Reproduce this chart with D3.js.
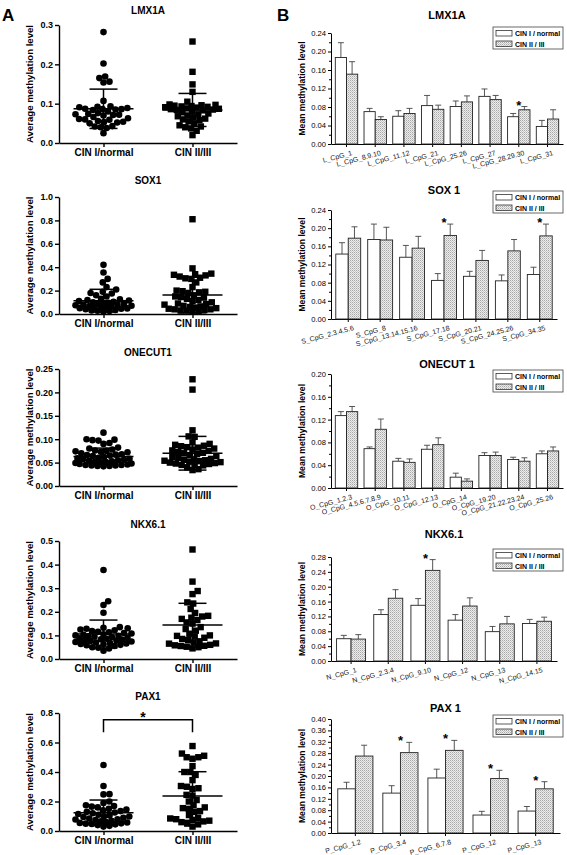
<!DOCTYPE html>
<html><head><meta charset="utf-8">
<script src="https://cdn.jsdelivr.net/npm/d3@7"></script>
<style>
body{margin:0;background:#fff;}
svg{display:block;font-family:"Liberation Sans",Arial,Helvetica,sans-serif;}
</style></head><body>
<svg id="fig" width="567" height="855"></svg>
<script>
// ---------- Panel A data (scatter, mean ± SD) ----------
const scatterGenes = ["LMX1A", "SOX1", "ONECUT1", "NKX6.1", "PAX1"];
const scatterGroups = ["CIN I/normal", "CIN II/III"];
const scatterMax = [0.3, 1.0, 0.25, 0.5, 0.8];
const scatterStep = [0.1, 0.2, 0.05, 0.1, 0.2];
const scatterFmt = [".1f", ".1f", ".2f", ".1f", ".1f"];

const lmx1aNormal = [0.282,0.202,0.169,0.165,0.156,0.154,0.107,0.093,0.092,0.091,0.089,0.087,0.086,0.086,0.085,0.084,0.080,0.076,0.074,0.073,0.072,0.071,0.070,0.066,0.063,0.061,0.060,0.059,0.056,0.054,0.053,0.052,0.050,0.043,0.042,0.040,0.038,0.025];
const lmx1aHigh = [0.258,0.181,0.149,0.130,0.105,0.098,0.097,0.096,0.095,0.094,0.093,0.092,0.091,0.090,0.088,0.087,0.086,0.085,0.084,0.083,0.080,0.078,0.075,0.073,0.070,0.068,0.065,0.062,0.060,0.058,0.055,0.050,0.045,0.042,0.040,0.037,0.031,0.020];
const sox1Normal = [0.42,0.355,0.30,0.27,0.23,0.21,0.19,0.18,0.175,0.16,0.15,0.13,0.125,0.12,0.115,0.11,0.105,0.10,0.095,0.09,0.088,0.085,0.08,0.078,0.075,0.07,0.068,0.065,0.06,0.058,0.055,0.05,0.048,0.045,0.04,0.035,0.03,0.028,0.025,0.02];
const sox1High = [0.81,0.39,0.345,0.34,0.335,0.33,0.32,0.31,0.305,0.30,0.27,0.23,0.20,0.195,0.19,0.185,0.18,0.16,0.15,0.145,0.14,0.13,0.12,0.11,0.10,0.09,0.085,0.08,0.07,0.065,0.06,0.055,0.05,0.045,0.04,0.04,0.035,0.03,0.03,0.025,0.02];
const onecut1Normal = [0.114,0.100,0.099,0.098,0.097,0.092,0.090,0.082,0.080,0.078,0.076,0.075,0.074,0.073,0.072,0.070,0.068,0.067,0.066,0.065,0.064,0.062,0.060,0.059,0.058,0.057,0.056,0.055,0.054,0.053,0.052,0.051,0.050,0.049,0.048,0.047,0.046,0.045,0.045,0.044,0.044,0.043,0.043,0.042];
const onecut1High = [0.228,0.206,0.119,0.106,0.105,0.093,0.090,0.088,0.086,0.085,0.083,0.082,0.080,0.078,0.076,0.075,0.073,0.071,0.070,0.068,0.066,0.064,0.062,0.060,0.058,0.057,0.056,0.055,0.054,0.053,0.052,0.051,0.050,0.049,0.048,0.047,0.046,0.045,0.044,0.040,0.036,0.034];
const nkx61Normal = [0.377,0.245,0.229,0.196,0.135,0.132,0.130,0.128,0.125,0.122,0.118,0.115,0.113,0.110,0.108,0.105,0.103,0.100,0.098,0.096,0.094,0.092,0.090,0.088,0.086,0.084,0.082,0.080,0.078,0.076,0.074,0.072,0.070,0.068,0.066,0.064,0.062,0.060,0.058,0.055,0.050,0.048,0.045,0.035];
const nkx61High = [0.464,0.328,0.288,0.275,0.24,0.235,0.212,0.195,0.183,0.18,0.175,0.17,0.165,0.155,0.15,0.135,0.127,0.12,0.107,0.1,0.098,0.095,0.09,0.085,0.08,0.075,0.07,0.066,0.065,0.06,0.058,0.056,0.055,0.052,0.05,0.045];
const pax1Normal = [0.447,0.305,0.25,0.248,0.20,0.19,0.175,0.17,0.165,0.16,0.15,0.145,0.14,0.135,0.13,0.125,0.12,0.115,0.11,0.105,0.10,0.098,0.095,0.09,0.085,0.08,0.078,0.075,0.07,0.065,0.06,0.058,0.055,0.052,0.05,0.048,0.045,0.04,0.035,0.03];
const pax1High = [0.576,0.525,0.51,0.50,0.50,0.49,0.44,0.40,0.40,0.38,0.345,0.305,0.30,0.29,0.285,0.245,0.24,0.21,0.20,0.175,0.16,0.155,0.15,0.135,0.13,0.108,0.09,0.085,0.08,0.075,0.07,0.065,0.06,0.05,0.045,0.03];

const meanNormal = [0.087, 0.114, 0.063, 0.106, 0.124];
const sdNormal   = [0.050, 0.097, 0.018, 0.059, 0.086];
const meanHigh   = [0.084, 0.162, 0.070, 0.144, 0.237];
const sdHigh     = [0.042, 0.152, 0.036, 0.092, 0.165];
const pax1Bracket = [0.67, 0.755]; // leg end, bracket top (data units)

// ---------- Panel B data (bars, mean + SE) ----------
const barGenes = ["LMX1A", "SOX 1", "ONECUT 1", "NKX6.1", "PAX 1"];
const barSeries = ["CIN I / normal", "CIN II / III"];
const barMax = [0.24, 0.24, 0.20, 0.28, 0.40];

const lmxSites = ["L_CpG_1","L_CpG_8.9.10","L_CpG_11.12","L_CpG_21","L_CpG_25.26","L_CpG_27","L_CpG_28.29.30","L_CpG_31"];
const lmxNormal = [0.187,0.070,0.060,0.083,0.081,0.103,0.059,0.038];
const lmxNormalErr = [0.032,0.007,0.012,0.022,0.012,0.016,0.007,0.013];
const lmxHigh = [0.151,0.053,0.066,0.075,0.091,0.096,0.074,0.054];
const lmxHighErr = [0.027,0.006,0.011,0.009,0.013,0.009,0.007,0.020];
const lmxStars = [0,0,0,0,0,0,1,0];

const soxSites = ["S_CpG_2.3.4.5.6","S_CpG_8","S_CpG_13.14.15.16","S_CpG_17.18","S_CpG_20.21","S_CpG_24.25.26","S_CpG_34.35"];
const soxNormal = [0.143,0.175,0.136,0.085,0.094,0.084,0.098];
const soxNormalErr = [0.025,0.034,0.026,0.015,0.011,0.013,0.016];
const soxHigh = [0.178,0.174,0.156,0.184,0.129,0.150,0.183];
const soxHighErr = [0.025,0.028,0.026,0.025,0.022,0.025,0.026];
const soxStars = [0,0,0,1,0,0,1];

const oneSites = ["O_CpG_1.2.3","O_CpG_4.5.6.7.8.9","O_CpG_10.11","O_CpG_12.13","O_CpG_14","O_CpG_19.20","O_CpG_21.22.23.24","O_CpG_25.26"];
const oneNormal = [0.127,0.069,0.047,0.068,0.019,0.057,0.050,0.060];
const oneNormalErr = [0.007,0.003,0.005,0.007,0.007,0.005,0.004,0.005];
const oneHigh = [0.134,0.103,0.045,0.076,0.012,0.057,0.047,0.065];
const oneHighErr = [0.009,0.018,0.006,0.012,0.004,0.006,0.006,0.007];
const oneStars = [0,0,0,0,0,0,0,0];

const nkxSites = ["N_CpG_1","N_CpG_2.3.4","N_CpG_9.10","N_CpG_12","N_CpG_13","N_CpG_14.15"];
const nkxNormal = [0.060,0.125,0.150,0.110,0.079,0.101];
const nkxNormalErr = [0.009,0.013,0.018,0.015,0.014,0.011];
const nkxHigh = [0.059,0.169,0.244,0.148,0.100,0.107];
const nkxHighErr = [0.012,0.023,0.029,0.022,0.020,0.011];
const nkxStars = [0,0,1,0,0,0];

const paxSites = ["P_CpG_1.2","P_CpG_3.4","P_CpG_6.7.8","P_CpG_12","P_CpG_13"];
const paxNormal = [0.155,0.140,0.193,0.063,0.077];
const paxNormalErr = [0.023,0.026,0.031,0.013,0.016];
const paxHigh = [0.270,0.282,0.290,0.191,0.155];
const paxHighErr = [0.038,0.036,0.035,0.029,0.025];
const paxStars = [0,1,1,1,1];

// ---------- layout ----------
const leftX0 = 59, leftX1 = 237;
const leftTop = [25, 197, 369, 541, 713];
const leftBottom = [143, 314, 486, 659, 831];
const leftTitleY = [14, 184, 356, 528, 700];

const barX0 = 331;
const barTop = [33, 210, 374, 557, 719];
const barBottom = [144, 319, 488, 661, 833];
const barRight = [563, 557, 563, 557, 560];
const barTitleY = [19, 194, 368, 538, 712];
const legendY = [27, 191, 370, 549, 715];

const svg = d3.select("#fig");
svg.append("rect").attr("width", 567).attr("height", 855).attr("fill", "#fff");

const defs = svg.append("defs");
const pat = defs.append("pattern").attr("id", "dots").attr("width", 2).attr("height", 2)
  .attr("patternUnits", "userSpaceOnUse");
pat.append("rect").attr("width", 2).attr("height", 2).attr("fill", "#ececec");
pat.append("rect").attr("width", 1).attr("height", 1).attr("fill", "#a8a8a8");
pat.append("rect").attr("x", 1).attr("y", 1).attr("width", 1).attr("height", 1).attr("fill", "#c8c8c8");

svg.append("text").attr("x", 2).attr("y", 21).attr("font-size", 17).attr("font-weight", "bold").text("A");
svg.append("text").attr("x", 277).attr("y", 21).attr("font-size", 17).attr("font-weight", "bold").text("B");

// beeswarm placement, limited to a half-width W (markers may then overlap, like Prism)
function swarm(vals, yScale, s, W) {
  const pts = vals.map(v => ({ v, y: yScale(v) })).sort((a, b) => b.y - a.y);
  const placed = [];
  for (const p of pts) {
    let cands = [0];
    for (const q of placed) {
      const dy = Math.abs(q.y - p.y);
      if (dy < s) {
        const dx = Math.sqrt(s * s - dy * dy);
        cands.push(q.dx + dx + 0.01, q.dx - dx - 0.01);
      }
    }
    cands = cands.filter(c => Math.abs(c) <= W);
    cands.sort((a, b) => Math.abs(a) - Math.abs(b));
    let chosen = null;
    for (const c of cands) {
      if (placed.every(q => (q.dx - c) ** 2 + (q.y - p.y) ** 2 >= s * s - 0.02)) { chosen = c; break; }
    }
    if (chosen === null) {
      let best = -1;
      for (let c = -W; c <= W; c += 0.5) {
        const md = d3.min(placed, q => Math.hypot(q.dx - c, q.y - p.y));
        if (md > best + 1e-6) { best = md; chosen = c; }
      }
    }
    p.dx = chosen;
    placed.push(p);
  }
  return placed;
}

function styleAxis(sel, w) {
  sel.selectAll("path.domain").attr("stroke", "#000").attr("stroke-width", w);
  sel.selectAll(".tick line").attr("stroke", "#000").attr("stroke-width", w);
  sel.selectAll("text").attr("fill", "#000");
}

function scatterPanel(i, normalVals, highVals) {
  const y = d3.scaleLinear().domain([0, scatterMax[i]]).range([leftBottom[i], leftTop[i]]);
  const x = d3.scalePoint().domain(scatterGroups).range([leftX0, leftX1]).padding(0.5);
  const g = svg.append("g");
  g.append("text").attr("x", (leftX0 + leftX1) / 2).attr("y", leftTitleY[i])
    .attr("text-anchor", "middle").attr("font-size", 10).attr("font-weight", "bold").text(scatterGenes[i]);
  g.append("text").attr("transform", `translate(33,${(leftTop[i] + leftBottom[i]) / 2}) rotate(-90)`)
    .attr("text-anchor", "middle").attr("font-size", 9.6).attr("font-weight", "bold")
    .text("Average methylation level");
  const ticks = d3.range(0, scatterMax[i] + 1e-9, scatterStep[i]);
  const ya = g.append("g").attr("transform", `translate(${leftX0},0)`)
    .call(d3.axisLeft(y).tickValues(ticks).tickSize(4).tickSizeOuter(0).tickPadding(2).tickFormat(d3.format(scatterFmt[i])))
    .attr("font-size", 9).attr("font-weight", "bold").attr("font-family", null);
  styleAxis(ya, 1.4);
  const xa = g.append("g").attr("transform", `translate(0,${leftBottom[i]})`)
    .call(d3.axisBottom(x).tickSize(4).tickSizeOuter(0).tickPadding(2))
    .attr("font-size", 10).attr("font-weight", "bold").attr("font-family", null);
  styleAxis(xa, 1.4);

  const s = 6, W = 28;
  const cn = x(scatterGroups[0]), ch = x(scatterGroups[1]);
  g.append("g").selectAll("circle").data(swarm(normalVals, y, s, W)).join("circle")
    .attr("cx", d => cn + d.dx).attr("cy", d => d.y).attr("r", 3.3).attr("fill", "#000");
  g.append("g").selectAll("rect").data(swarm(highVals, y, s, W)).join("rect")
    .attr("x", d => ch + d.dx - 3.2).attr("y", d => d.y - 3.2).attr("width", 6.4).attr("height", 6.4).attr("fill", "#000");

  const stats = [[cn, meanNormal[i], sdNormal[i]], [ch, meanHigh[i], sdHigh[i]]];
  const ms = g.append("g").attr("stroke", "#000").attr("stroke-width", 1.5);
  stats.forEach(([c, m, sd]) => {
    ms.append("line").attr("x1", c - 30).attr("x2", c + 30).attr("y1", y(m)).attr("y2", y(m));
    ms.append("line").attr("x1", c).attr("x2", c).attr("y1", y(Math.max(0, m - sd))).attr("y2", y(m + sd));
    [m - sd, m + sd].forEach(v => ms.append("line").attr("x1", c - 14).attr("x2", c + 14)
      .attr("y1", y(Math.max(0, v))).attr("y2", y(Math.max(0, v))));
  });
  return { g, x, y };
}

function barPanel(j, sites, normal, normalErr, high, highErr, stars) {
  const y = d3.scaleLinear().domain([0, barMax[j]]).range([barBottom[j], barTop[j]]);
  const x0 = d3.scaleBand().domain(sites).range([barX0, barRight[j]]).paddingInner(0.22).paddingOuter(0.15);
  const x1 = d3.scaleBand().domain(barSeries).range([0, x0.bandwidth()]);
  const g = svg.append("g");
  g.append("text").attr("x", (barX0 + barRight[j]) / 2).attr("y", barTitleY[j])
    .attr("text-anchor", "middle").attr("font-size", 11).attr("font-weight", "bold").text(barGenes[j]);
  g.append("text").attr("transform", `translate(305,${(barTop[j] + barBottom[j]) / 2}) rotate(-90)`)
    .attr("text-anchor", "middle").attr("font-size", 8.6).attr("font-weight", "bold")
    .text("Mean methylation level");

  const major = d3.range(0, barMax[j] + 1e-9, 0.04);
  const minor = d3.range(0.02, barMax[j], 0.04);
  const ya = g.append("g").attr("transform", `translate(${barX0},0)`)
    .call(d3.axisLeft(y).tickValues(major).tickSize(3).tickSizeOuter(0).tickPadding(2).tickFormat(d3.format(".2f")))
    .attr("font-size", 7.6).attr("font-family", null);
  styleAxis(ya, 1);
  const ym = g.append("g").attr("transform", `translate(${barX0},0)`)
    .call(d3.axisLeft(y).tickValues(minor).tickSize(2).tickFormat(""));
  ym.select("path.domain").remove();
  styleAxis(ym, 1);

  const xa = g.append("g").attr("transform", `translate(0,${barBottom[j]})`)
    .call(d3.axisBottom(x0).tickSize(3).tickSizeOuter(0).tickFormat(""));
  styleAxis(xa, 1);
  g.append("g").selectAll("text").data(sites).join("text")
    .attr("transform", d => `translate(${x0(d) + x0.bandwidth() / 2 + 6},${barBottom[j] + 11}) rotate(-15)`)
    .attr("text-anchor", "end").attr("font-size", 7).attr("fill", "#111").text(d => d);

  const rows = sites.map((s, k) => ({ s, k }));
  const series = [
    { name: barSeries[0], vals: normal, errs: normalErr, fill: "#fff" },
    { name: barSeries[1], vals: high, errs: highErr, fill: "url(#dots)" }
  ];
  series.forEach(se => {
    const bx = d => x0(d.s) + x1(se.name);
    const bg = g.append("g");
    bg.selectAll("line.err").data(rows).join("line").attr("class", "err")
      .attr("x1", d => bx(d) + x1.bandwidth() / 2).attr("x2", d => bx(d) + x1.bandwidth() / 2)
      .attr("y1", d => y(se.vals[d.k])).attr("y2", d => y(se.vals[d.k] + se.errs[d.k]))
      .attr("stroke", "#444").attr("stroke-width", 0.9);
    bg.selectAll("line.cap").data(rows).join("line").attr("class", "cap")
      .attr("x1", d => bx(d) + x1.bandwidth() / 2 - 3).attr("x2", d => bx(d) + x1.bandwidth() / 2 + 3)
      .attr("y1", d => y(se.vals[d.k] + se.errs[d.k])).attr("y2", d => y(se.vals[d.k] + se.errs[d.k]))
      .attr("stroke", "#444").attr("stroke-width", 0.9);
    bg.selectAll("rect").data(rows).join("rect")
      .attr("x", d => bx(d)).attr("width", x1.bandwidth())
      .attr("y", d => y(se.vals[d.k])).attr("height", d => y(0) - y(se.vals[d.k]))
      .attr("fill", se.fill).attr("stroke", "#222").attr("stroke-width", 0.9);
  });

  g.append("g").selectAll("text").data(rows.filter(d => stars[d.k])).join("text")
    .attr("x", d => x0(d.s) + x0.bandwidth() / 2)
    .attr("y", d => y(Math.max(normal[d.k] + normalErr[d.k], high[d.k] + highErr[d.k])) + 3)
    .attr("text-anchor", "middle").attr("font-size", 13).attr("font-weight", "bold").text("*");

  // legend
  const lx = 493, ly = legendY[j];
  const lg = g.append("g");
  lg.append("rect").attr("x", lx).attr("y", ly).attr("width", 70).attr("height", 22)
    .attr("fill", "#fff").attr("stroke", "#444").attr("stroke-width", 0.8);
  series.forEach((se, k) => {
    lg.append("rect").attr("x", lx + 3).attr("y", ly + 3.5 + k * 10.5).attr("width", 16).attr("height", 5.5)
      .attr("fill", se.fill).attr("stroke", "#333").attr("stroke-width", 0.8);
    lg.append("text").attr("x", lx + 22).attr("y", ly + 9 + k * 10.5)
      .attr("font-size", 7).attr("font-weight", "bold").text(se.name);
  });
}

scatterPanel(0, lmx1aNormal, lmx1aHigh);
scatterPanel(1, sox1Normal, sox1High);
scatterPanel(2, onecut1Normal, onecut1High);
scatterPanel(3, nkx61Normal, nkx61High);
const pax = scatterPanel(4, pax1Normal, pax1High);
// significance bracket for PAX1
{
  const xa = pax.x(scatterGroups[0]), xb = pax.x(scatterGroups[1]);
  const yl = pax.y(pax1Bracket[0]), yt = pax.y(pax1Bracket[1]);
  pax.g.append("path").attr("d", `M${xa},${yl}V${yt}H${xb}V${yl}`)
    .attr("fill", "none").attr("stroke", "#000").attr("stroke-width", 1.5);
  pax.g.append("text").attr("x", (xa + xb) / 2 - 5).attr("y", yt + 2)
    .attr("text-anchor", "middle").attr("font-size", 14).attr("font-weight", "bold").text("*");
}

barPanel(0, lmxSites, lmxNormal, lmxNormalErr, lmxHigh, lmxHighErr, lmxStars);
barPanel(1, soxSites, soxNormal, soxNormalErr, soxHigh, soxHighErr, soxStars);
barPanel(2, oneSites, oneNormal, oneNormalErr, oneHigh, oneHighErr, oneStars);
barPanel(3, nkxSites, nkxNormal, nkxNormalErr, nkxHigh, nkxHighErr, nkxStars);
barPanel(4, paxSites, paxNormal, paxNormalErr, paxHigh, paxHighErr, paxStars);
</script></body></html>
